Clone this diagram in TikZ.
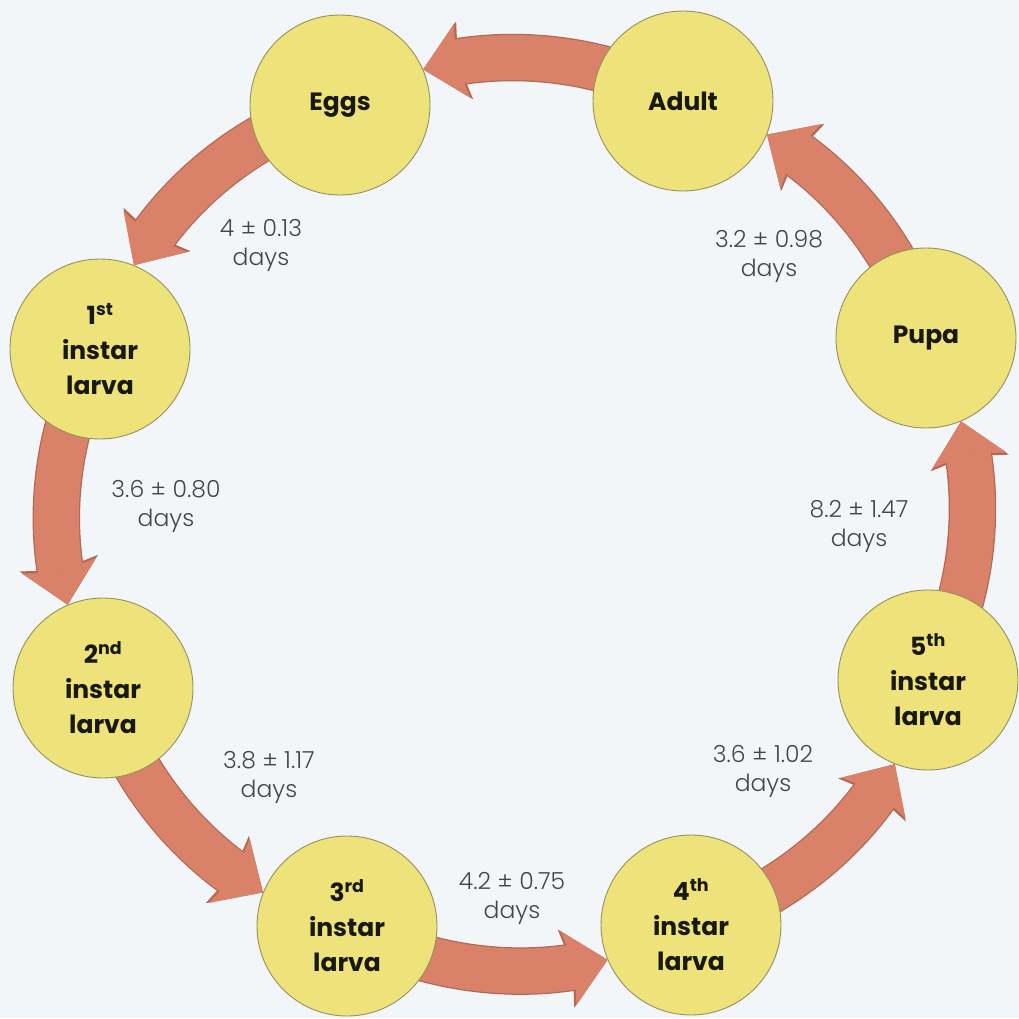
\documentclass[tikz,border=0pt]{standalone}
\usepackage{fontspec}
\setmainfont{Poppins}
\newfontfamily\durationfont{Poppins Light}
\usetikzlibrary{arrows.meta,bending,backgrounds}
\definecolor{paper}{RGB}{243,246,249}
\definecolor{stagefill}{RGB}{238,226,122}
\definecolor{stageedge}{RGB}{150,145,95}
\definecolor{arrowfill}{RGB}{217,129,105}
\definecolor{arrowedge}{RGB}{178,104,84}
\definecolor{numtext}{RGB}{70,70,70}
\definecolor{stagetext}{RGB}{25,25,20}

\begin{document}
\begin{tikzpicture}[x=1pt,y=1pt,
  stage/.style={circle, minimum size=180pt, inner sep=0pt, fill=stagefill,
    draw=stageedge, line width=0.9pt, align=center,
    font=\fontsize{25}{35}\selectfont\bfseries, text=stagetext},
  duration/.style={align=center, inner sep=0pt,
    font=\durationfont\fontsize{23.5}{29}\selectfont, text=numtext},
  cyclearrow/.style={line width=45pt, draw=arrowfill,
    -{Stealth[length=40pt,width=76pt,inset=7pt,line width=0pt,fill=arrowfill]},
    preaction={draw=arrowedge, line width=47.5pt,
      -{Stealth[length=42.5pt,width=80pt,inset=7pt,line width=0pt,fill=arrowedge]}}},
  cyclebend/.style={bend right=22.5, looseness=0.86},
]
\useasboundingbox (0,0) rectangle (1019,1018);

% life stages
\node[stage] (eggs)  at (340,913) {Eggs};
\node[stage] (adult) at (683,917) {Adult};
\node[stage] (pupa)  at (926,680) {Pupa};
\node[stage] (l5)    at (928,338) {5\textsuperscript{th}\\instar\\larva};
\node[stage] (l4)    at (691,93)  {4\textsuperscript{th}\\instar\\larva};
\node[stage] (l3)    at (347,92)  {3\textsuperscript{rd}\\instar\\larva};
\node[stage] (l2)    at (103,330) {2\textsuperscript{nd}\\instar\\larva};
\node[stage] (l1)    at (100,669) {1\textsuperscript{st}\\instar\\larva};

% development times
\node[duration] (t1) at (261,773) {4 ± 0.13\\days};
\node[duration] (t2) at (166,512) {3.6 ± 0.80\\days};
\node[duration] (t3) at (269,241) {3.8 ± 1.17\\days};
\node[duration] (t4) at (512,120) {4.2 ± 0.75\\days};
\node[duration] (t5) at (763,247) {3.6 ± 1.02\\days};
\node[duration] (t6) at (859,492) {8.2 ± 1.47\\days};
\node[duration] (t7) at (769,762) {3.2 ± 0.98\\days};

% background and the arrows of the cycle, behind the stages
\begin{scope}[on background layer]
  \fill[paper] (0,0) rectangle (1019,1018);
  \draw[cyclearrow] (adult.center) to[cyclebend] (eggs);
  \draw[cyclearrow] (eggs.center)  to[cyclebend] (l1);
  \draw[cyclearrow] (l1.center)    to[cyclebend] (l2);
  \draw[cyclearrow] (l2.center)    to[cyclebend] (l3);
  \draw[cyclearrow] (l3.center)    to[cyclebend] (l4);
  \draw[cyclearrow] (l4.center)    to[cyclebend] (l5);
  \draw[cyclearrow] (l5.center)    to[cyclebend] (pupa);
  \draw[cyclearrow] (pupa.center)  to[cyclebend] (adult);
\end{scope}
\end{tikzpicture}
\end{document}
